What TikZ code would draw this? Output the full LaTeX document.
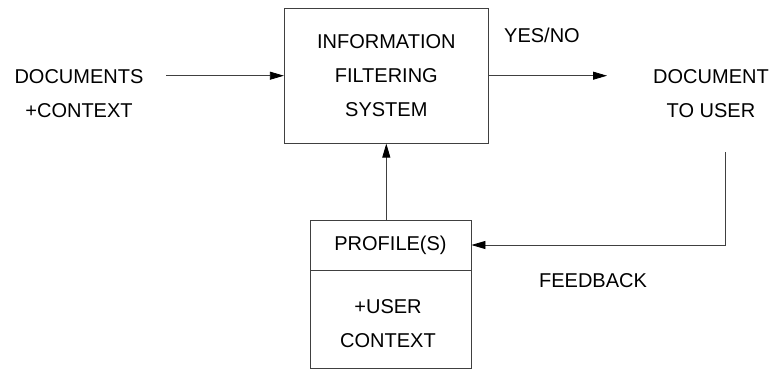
\documentclass[tikz,border=0pt]{standalone}
\usepackage{fontspec}
\setmainfont{Liberation Sans}
\usetikzlibrary{arrows.meta}
\begin{document}
\begin{tikzpicture}[x=1pt,y=-1pt,
	txt/.style={align=center,inner sep=0pt,font=\fontsize{20}{34}\selectfont},
	box/.style={txt,draw=black!75,line width=0.8pt},
	arr/.style={draw=black!75,line width=0.8pt,-{Triangle[length=14pt,width=8pt,color=black]}}]
	\useasboundingbox (0,0) rectangle (776,372);
	
	% Boxes
	\node[box,minimum width=204pt,minimum height=135pt] (sys) at (386.3,75.7) {INFORMATION\\FILTERING\\SYSTEM};
	\node[box,minimum width=161pt,minimum height=50pt] (profile) at (390.5,245) {PROFILE(S)};
	\node[box,minimum width=161pt,minimum height=98pt] (ctx) at (390.5,319) {};
	\node[txt] (ctxtext) at (388,323.5) {+USER\\CONTEXT};
	
	% Labels
	\node[txt] (docs) at (79,94) {DOCUMENTS\\+CONTEXT};
	\node[txt] (yesno) at (542,35) {YES/NO};
	\node[txt] (user) at (711,94) {DOCUMENT\\TO USER};
	\node[txt] (feedback) at (593,281) {FEEDBACK};
	
	% Arrows
	\coordinate (docsout) at (166,75.7);
	\coordinate (userin) at (607,75.7);
	\coordinate (fbtop) at (725.7,152);
	\draw[arr] (docsout) -- (sys.west);
	\draw[arr] (sys.east) -- (userin);
	\draw[arr] (fbtop) |- (profile.east);
	\draw[arr] (profile.north -| sys.south) -- (sys.south);
\end{tikzpicture}
\end{document}
